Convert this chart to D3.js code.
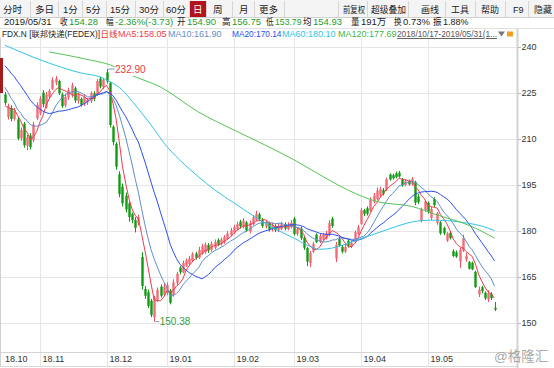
<!DOCTYPE html>
<html><head><meta charset="utf-8">
<script src="https://cdn.jsdelivr.net/npm/d3@7"></script>
<style>body{margin:0;background:#fff;}svg{display:block;font-family:"Liberation Sans","Noto Sans CJK SC",sans-serif;}</style>
</head><body><svg id="c" width="554" height="368"></svg>
<script>
// ---------- DATA ----------
const monthIdx    = [0, 11, 32, 51, 72, 91, 112, 133];
const monthLabels = ["18.10","18.11","18.12","19.01","19.02","19.03","19.04","19.05"];
const yTicks      = [150, 165, 180, 195, 210, 225, 240];

// closes of the 19 sessions before 2018/10/17 (needed for MA5/10/20)
const prevCloses = [243,244,242,241,240,240,241,240,239,240,238,236,234,232,225,224,219,220,220];

const open = [224.6,217.2,220.2,216.6,216.4,210.2,215.0,207.8,211.2,209.6,216.8,
 218.4,225.2,220.6,223.8,226.4,228.4,229.0,224.6,221.0,223.6,224.2,226.6,222.4,223.2,221.4,222.0,222.4,225.0,224.6,229.8,227.0,
 231.8,228.4,214.0,208.5,198.5,194.5,191.5,189.0,185.5,183.5,182.5,171.5,161.0,160.0,157.2,151.8,157.5,161.8,159.2,
 159.8,160.5,159.0,163.0,168.0,166.5,168.6,169.2,170.2,172.6,171.2,172.6,173.0,175.4,173.8,174.5,177.0,175.8,176.2,177.4,178.6,
 179.5,180.6,183.0,181.2,182.8,179.8,182.2,183.6,185.4,183.6,181.4,182.6,180.4,181.6,180.0,180.6,182.2,180.6,181.2,
 184.0,179.0,180.8,177.8,174.4,169.5,173.2,178.8,176.4,177.2,177.6,178.6,184.0,171.0,177.4,174.8,173.2,176.8,174.8,176.4,179.0,
 182.2,186.8,187.4,186.6,189.6,190.4,191.6,193.4,193.4,198.4,198.2,198.8,199.0,196.8,195.0,196.4,195.2,196.0,191.2,183.4,186.8,
 189.2,184.2,190.4,182.6,182.8,181.0,176.8,179.4,173.4,173.0,170.0,173.6,170.6,169.8,169.6,166.6,159.2,161.6,159.8,157.6,159.4,154.90];
const high = [225.4,221.6,221.0,220.2,217.2,213.8,215.6,211.4,212.0,215.6,222.0,
 224.0,226.0,225.4,226.4,230.2,230.6,229.4,225.2,224.8,226.8,228.4,227.2,225.2,223.6,224.6,223.4,225.6,225.6,229.6,230.4,230.0,
 232.9,228.8,214.5,209.0,199.5,195.5,192.5,189.5,186.0,184.5,185.3,173.0,162.0,160.8,157.8,158.8,161.5,162.5,163.0,
 163.2,161.0,164.2,166.6,168.5,170.3,171.0,171.8,173.0,173.2,174.8,175.8,176.2,176.0,176.5,177.2,177.6,177.8,178.6,180.0,181.0,
 182.0,183.0,183.6,184.2,183.2,183.4,185.2,186.6,186.0,184.2,183.6,183.0,182.6,182.2,182.4,183.0,182.8,182.8,183.6,
 184.6,181.2,181.4,178.2,174.8,173.4,176.4,179.2,179.0,179.4,180.0,183.5,184.6,176.4,178.0,175.4,175.8,177.2,176.8,180.2,182.0,
 187.5,187.2,188.0,191.0,192.4,194.2,194.4,194.0,197.4,198.8,198.7,199.4,199.6,197.3,196.8,196.8,197.6,196.4,192.0,187.6,190.2,
 189.6,187.8,191.0,186.2,183.2,181.4,179.6,180.0,174.0,173.6,174.4,178.7,172.8,170.2,170.0,167.0,161.8,162.0,160.2,160.6,160.0,156.75];
const low = [221.2,216.4,215.8,216.0,209.6,209.4,207.2,206.4,206.6,209.0,216.2,
 217.8,220.4,220.0,223.0,226.0,227.6,224.4,220.2,220.4,222.8,223.6,221.8,221.6,220.6,220.8,221.2,221.8,222.4,224.0,226.6,226.4,
 228.2,213.8,208.0,200.0,191.0,188.0,186.0,183.0,182.5,179.5,181.8,160.8,157.8,154.8,151.8,150.38,156.8,158.2,158.6,
 159.0,156.0,158.5,162.2,165.8,166.2,168.2,168.6,169.8,170.6,170.8,172.2,172.5,172.8,173.2,174.0,175.0,175.2,175.8,177.0,178.2,
 179.0,180.2,180.8,180.8,179.6,179.2,181.8,183.2,183.2,181.0,180.8,179.8,179.8,179.6,179.6,180.2,180.2,180.2,180.8,
 178.5,178.4,177.0,173.8,168.5,168.2,172.8,176.0,176.0,176.8,177.2,178.2,181.0,169.8,174.8,172.6,172.8,174.6,174.4,176.0,178.6,
 182.0,184.8,185.0,186.2,189.0,190.0,191.0,191.6,193.0,196.4,196.8,197.2,197.4,194.4,194.6,194.8,194.8,188.4,188.8,182.8,186.2,
 185.6,183.6,187.8,182.0,178.7,178.6,176.4,177.2,171.4,171.2,167.9,173.1,169.9,167.4,167.2,161.4,158.4,159.6,157.4,156.8,157.4,153.79];
const close = [221.8,220.8,216.6,219.4,210.2,213.0,208.0,210.6,207.4,214.8,221.2,
 223.2,221.4,224.6,225.8,229.4,229.8,225.0,220.8,223.8,226.0,227.6,222.6,224.4,221.2,223.8,222.8,225.0,223.2,229.0,227.2,229.4,
 228.8,214.6,209.0,201.0,192.0,189.0,187.0,184.5,183.5,181.0,184.5,162.0,158.8,155.5,152.5,158.3,160.8,158.8,161.8,
 162.3,156.5,163.2,166.0,166.5,169.5,170.4,171.0,172.4,171.2,173.8,175.0,175.5,173.6,175.8,176.4,175.6,177.2,178.0,179.2,180.2,
 181.2,182.2,181.5,183.4,180.2,182.6,184.4,185.6,183.8,181.6,182.8,180.4,181.8,180.2,181.6,182.2,180.8,182.0,182.6,
 179.0,180.6,177.6,174.5,170.0,172.8,175.8,176.4,178.4,178.8,179.2,182.6,181.6,175.5,175.2,173.2,174.8,175.2,176.2,179.6,181.2,
 186.8,185.6,185.6,190.2,191.6,193.2,193.6,192.2,196.8,196.8,197.2,197.6,197.8,194.8,196.2,195.2,197.0,189.2,189.4,187.2,189.6,
 186.2,187.2,188.4,185.8,179.2,179.2,179.2,177.6,171.8,171.6,173.8,177.6,171.8,167.6,167.4,161.6,160.8,160.3,158.0,159.6,158.01,154.28];

// MA60 / MA120 (bar index, value)
const ma60Idx  = [0,14,24,30,33,37,40,43,47,50,55,61,66,72,78,83,87,91,95,99,103,107,111,118,123,128,134,140,145,150,154];
const ma60Val  = [240.7,234.8,231.6,230.3,228.8,226.0,222.4,218.6,213.2,208.8,203.2,197.6,193.4,189.2,185.0,181.8,179.6,177.6,175.4,174.0,174.4,175.6,177.1,179.6,181.4,182.9,183.5,183.3,182.6,181.6,180.1];
const ma120Idx = [14,27,33,40,49,61,72,80,91,102,108,117,128,136,146,154];
const ma120Val = [238.5,235.8,234.3,230.8,227.0,218.8,213.0,209.0,203.2,196.6,193.3,189.6,188.0,185.2,181.8,177.7];

const legendText = ["MA5:158.05","MA10:161.90","MA20:170.14","MA60:180.10","MA120:177.69"];
const maColors   = ["#ee3b4c","#5f8fc6","#2a4ef0","#33c4e4","#55c455"];

// ---------- SCALES ----------
const svg = d3.select("#c");
const R = 517, TOP = 38, BOT = 352.5;
const x = d3.scaleLinear().domain([0, 154]).range([4.8, 494.5]);
const y = d3.scaleLinear().domain([150, 240]).range([322.7, 47.3]);

svg.append("rect").attr("width",554).attr("height",368).attr("fill","#fff");

// text helper: never wider than maxW
function txt(g, tx, ty, t, size, color, maxW){
  const el = g.append("text").attr("x",tx).attr("y",ty).attr("font-size",size).attr("fill",color).text(t);
  if (maxW){
    const len = el.node().getComputedTextLength();
    if (len > maxW) el.attr("textLength",maxW).attr("lengthAdjust","spacingAndGlyphs");
  }
  return el;
}

// ---------- GRID ----------
const grid = svg.append("g").attr("stroke","#e6e6e6").attr("stroke-width",1);
yTicks.forEach(t => grid.append("line").attr("x1",0).attr("x2",R).attr("y1",Math.round(y(t))+0.5).attr("y2",Math.round(y(t))+0.5));
monthIdx.slice(1).forEach(i => grid.append("line").attr("x1",Math.round(x(i))+0.5).attr("x2",Math.round(x(i))+0.5).attr("y1",TOP).attr("y2",366));
svg.append("line").attr("x1",0).attr("x2",R).attr("y1",BOT).attr("y2",BOT).attr("stroke","#d4d4d4");
svg.append("line").attr("x1",0).attr("x2",R).attr("y1",366.5).attr("y2",366.5).attr("stroke","#d8d8d8");
svg.append("line").attr("x1",0.5).attr("x2",0.5).attr("y1",TOP).attr("y2",366).attr("stroke","#d0d0d0");
// left marker
svg.append("rect").attr("x",0).attr("y",58).attr("width",3).attr("height",35).attr("fill","#a51c1c");

// ---------- Y AXIS (right) ----------
svg.append("line").attr("x1",R+0.5).attr("x2",R+0.5).attr("y1",28).attr("y2",368).attr("stroke","#d2d2d2").attr("stroke-width",2);
const ya = svg.append("g");
yTicks.forEach(t => {
  ya.append("line").attr("x1",R+1).attr("x2",R+4).attr("y1",Math.round(y(t))+0.5).attr("y2",Math.round(y(t))+0.5).attr("stroke","#bbb");
  txt(ya, R+4.5, y(t)+3, t, 9, "#333");
});
// ---------- X AXIS labels ----------
monthIdx.forEach((i,k) => txt(svg, k===0 ? 5 : Math.round(x(i))+2.5, 362, monthLabels[k], 9, "#333"));

// ---------- CANDLES ----------
const cg = svg.append("g");
close.forEach((c,i) => {
  const o = open[i], up = c >= o;
  const col = up ? "#f0505f" : "#139a13";
  const cx = Math.round(x(i)) + 0.5;
  cg.append("line").attr("x1",cx).attr("x2",cx).attr("y1",y(high[i])).attr("y2",y(low[i])).attr("stroke",col).attr("stroke-width",1);
  const top = y(Math.max(o,c)), bot = y(Math.min(o,c));
  cg.append("rect").attr("x",cx-1.2).attr("y",top).attr("width",2.4).attr("height",Math.max(1,bot-top))
    .attr("fill", up ? "#f36a78" : "#139a13");
});

// ---------- MOVING AVERAGES ----------
const all = prevCloses.concat(close), off = prevCloses.length;
function ma(n){ return close.map((_,i) => d3.mean(all.slice(i+off-n+1, i+off+1))); }
const line = d3.line().x(d => x(d[0])).y(d => y(d[1]));
[5,10,20].forEach((n,k) => {
  const vals = ma(n).map((v,i)=>[i,v]);
  svg.append("path").attr("d",line(vals)).attr("fill","none").attr("stroke",maColors[k]).attr("stroke-width",1);
});
const cline = d3.line().x(d => x(d[0])).y(d => y(d[1])).curve(d3.curveMonotoneX);
svg.append("path").attr("d",cline(ma60Idx.map((v,k)=>[v,ma60Val[k]]))).attr("fill","none").attr("stroke",maColors[3]).attr("stroke-width",1);
svg.append("path").attr("d",cline(ma120Idx.map((v,k)=>[v,ma120Val[k]]))).attr("fill","none").attr("stroke",maColors[4]).attr("stroke-width",1);

// ---------- HIGH / LOW LABELS ----------
const hiI = d3.maxIndex(high), loI = d3.minIndex(low);
const hx = x(hiI), hy = y(high[hiI]);
svg.append("rect").attr("x",hx+8).attr("y",hy-7).attr("width",30).attr("height",14).attr("fill","#fff");
svg.append("path").attr("d",`M${hx+1},${hy+1}L${hx+2},${hy}L${hx+8},${hy}`).attr("stroke","#7b9cc4").attr("fill","none");
txt(svg, hx+8.5, hy+3.5, high[hiI].toFixed(2), 10, "#e8393e");
const lx = x(loI), ly = y(low[loI]);
svg.append("path").attr("d",`M${lx+1},${ly}L${lx+5},${ly}`).attr("stroke","#7b9cc4").attr("fill","none");
txt(svg, lx+5.5, ly+3.5, low[loI].toFixed(2), 10, "#3c9c3c");

// ---------- HEADER ----------
svg.append("rect").attr("x",0).attr("y",0).attr("width",554).attr("height",17).attr("fill","#f4f4f4");
svg.append("line").attr("x1",0).attr("x2",554).attr("y1",17.5).attr("y2",17.5).attr("stroke","#d0d0d0");
svg.append("line").attr("x1",0).attr("x2",554).attr("y1",28.5).attr("y2",28.5).attr("stroke","#e2e2e2");
const btnL = [[3,"分时"],[35,"多日"],[63,"1分"],[86,"5分"],[110,"15分"],[139,"30分"],[166,"60分"],[193,"日"],[213,"周"],[239,"月"],[259,"更多"]];
const sepL = [30,58,82,106,135,163,189,206,232,254,284];
const btnR = [[343,"前复权"],[371,"超级叠加"],[421,"画线"],[451,"工具"],[481,"帮助"],[513,"F9"],[534,"隐藏"]];
const sepR = [338,367,408,445,475,505,528];
svg.append("rect").attr("x",189).attr("y",1).attr("width",17).attr("height",16).attr("fill","#b3141c");
sepL.concat(sepR).forEach(s => svg.append("line").attr("x1",s+0.5).attr("x2",s+0.5).attr("y1",1).attr("y2",17).attr("stroke","#d6d6d6"));
btnL.forEach(([bx,t],k) => txt(svg, bx, 12.5, t, 9.5, t==="日" ? "#fff" : "#222", 24));
btnR.forEach(([bx,t],k) => {
  const nxt = k < btnR.length-1 ? sepR[k+1] : 554;
  txt(svg, bx, 12.5, t, 9, "#222", nxt - bx - 2);
});

const GREEN = "#2a9a2a";
const row2 = [[4,"2019/05/31","#222"],[60,"收","#222"],[69,"154.28",GREEN],[106,"幅","#222"],[115,"-2.36%(-3.73)",GREEN],
 [177,"开","#222"],[187,"154.90",GREEN],[222,"高","#222"],[232,"156.75",GREEN],[266,"低","#222"],[275,"153.79",GREEN],
 [303,"均","#222"],[313,"154.93",GREEN],[351,"量","#222"],[361,"191万","#222"],[394,"换","#222"],[403,"0.73%","#222"],
 [433,"振","#222"],[443,"1.88%","#222"]];
row2.forEach(([tx,t,c],k) => {
  const nxt = k < row2.length-1 ? row2[k+1][0] : 470;
  txt(svg, tx, 24.8, t, 9.5, c, nxt - tx - 1.5);
});

// row 3
const row3 = [[2,"FDX.N [联邦快递(FEDEX)]","#222",8.3],[100.5,"日线","#e02a2a",8.5],[118,legendText[0],maColors[0],9],[168,legendText[1],maColors[1],9],
 [232,legendText[2],maColors[2],9],[282,legendText[3],maColors[3],9],[338,legendText[4],"#44b544",9],[397,"","",9]];
row3.slice(0,-1).forEach(([tx,t,c,fs],k) => txt(svg, tx, 37, t, fs, c, row3[k+1][0] - tx - 0.5));
svg.append("text").attr("x",397).attr("y",37).attr("font-size",9).attr("fill","#555").attr("text-decoration","underline")
  .attr("textLength",100).attr("lengthAdjust","spacingAndGlyphs").text("2018/10/17-2019/05/31(1...");
svg.append("path").attr("d","M498,31.5L505,31.5L501.5,36.5Z").attr("fill","#777");
svg.append("rect").attr("x",507).attr("y",31.5).attr("width",6).attr("height",5).attr("fill","#f0a020");

// watermark
txt(svg, 494, 361, "@格隆汇", 13.5, "#9a9a9a").attr("opacity",0.85);
</script></body></html>
